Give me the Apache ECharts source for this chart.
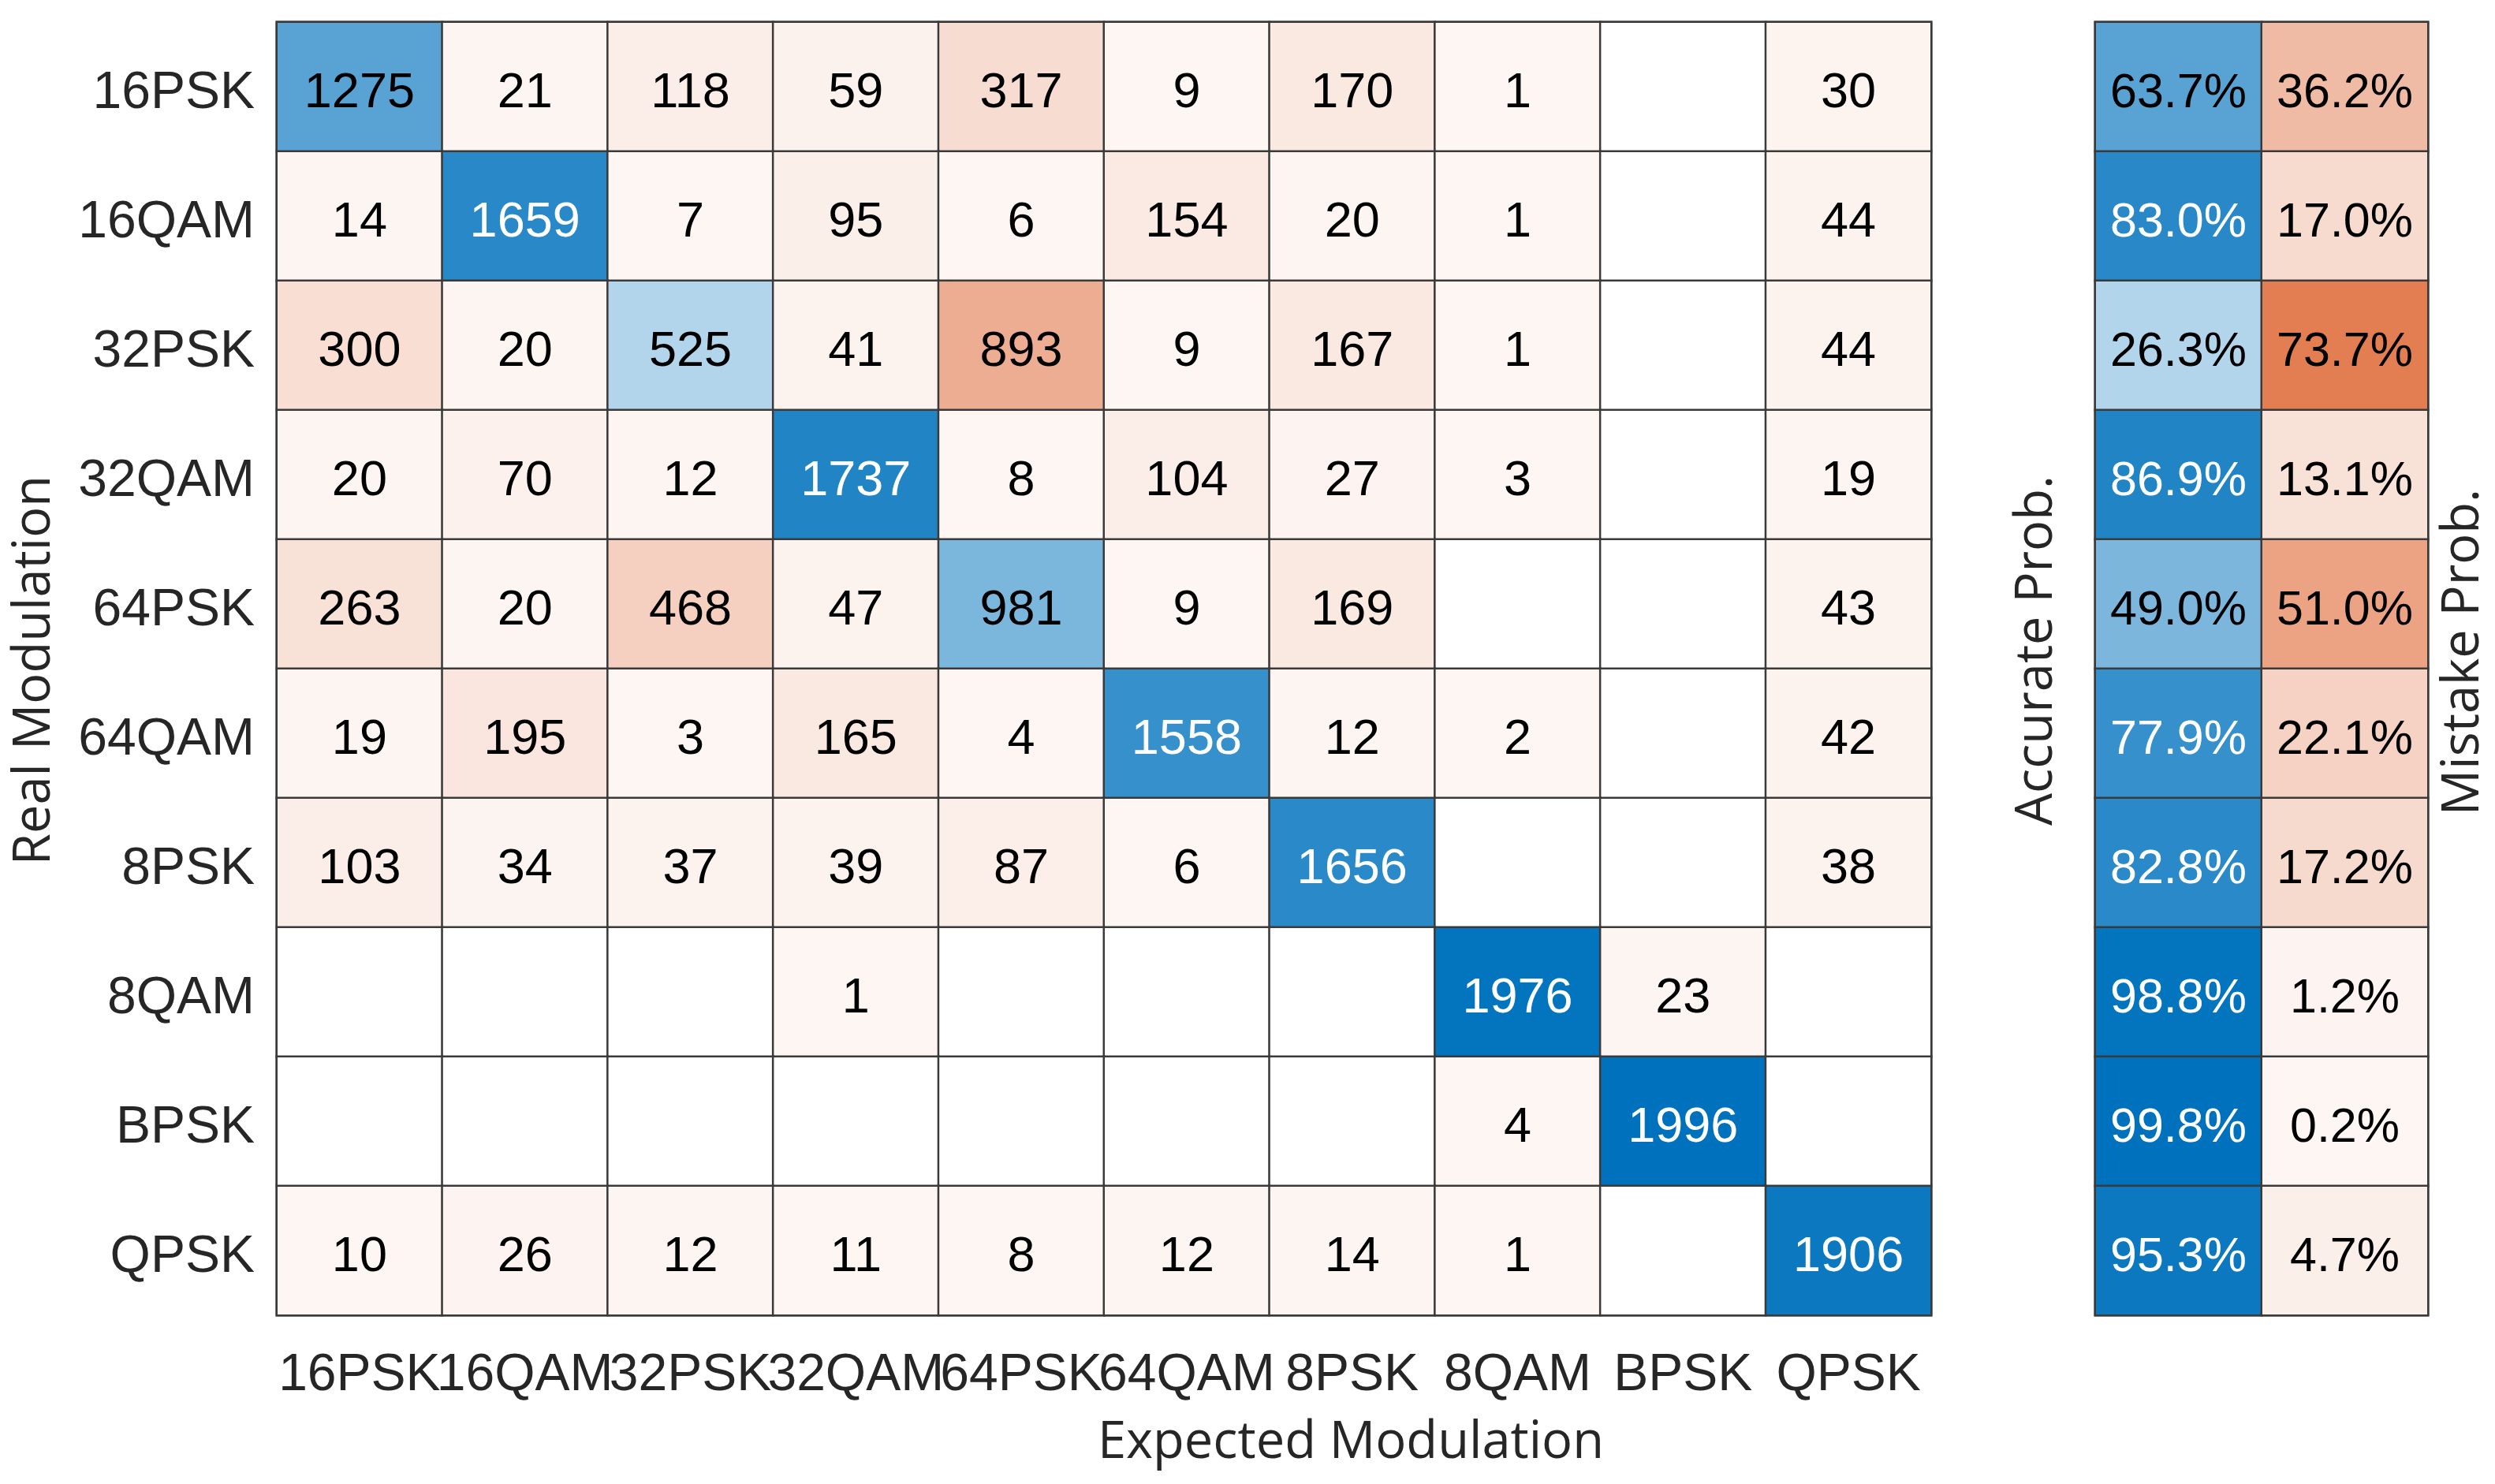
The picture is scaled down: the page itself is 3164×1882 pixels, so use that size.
<!DOCTYPE html>
<html>
<head>
<meta charset="utf-8">
<script src="https://cdn.jsdelivr.net/npm/echarts@6.0.0/dist/echarts.min.js"></script>
<style>
  html, body { margin: 0; padding: 0; background: #fff; }
  .chart { width: 3164px; height: 1882px; }
</style>
</head>
<body>
<div id="main" class="chart"></div>
<script>
// modulation classes, same order on both axes
const categories = ["16PSK", "16QAM", "32PSK", "32QAM", "64PSK", "64QAM", "8PSK", "8QAM", "BPSK", "QPSK"];

// counts, one row per real modulation
const row16PSK = [1275, 21, 118, 59, 317, 9, 170, 1, 0, 30];
const row16QAM = [14, 1659, 7, 95, 6, 154, 20, 1, 0, 44];
const row32PSK = [300, 20, 525, 41, 893, 9, 167, 1, 0, 44];
const row32QAM = [20, 70, 12, 1737, 8, 104, 27, 3, 0, 19];
const row64PSK = [263, 20, 468, 47, 981, 9, 169, 0, 0, 43];
const row64QAM = [19, 195, 3, 165, 4, 1558, 12, 2, 0, 42];
const row8PSK = [103, 34, 37, 39, 87, 6, 1656, 0, 0, 38];
const row8QAM = [0, 0, 0, 1, 0, 0, 0, 1976, 23, 0];
const rowBPSK = [0, 0, 0, 0, 0, 0, 0, 4, 1996, 0];
const rowQPSK = [10, 26, 12, 11, 8, 12, 14, 1, 0, 1906];
const matrix = [row16PSK, row16QAM, row32PSK, row32QAM, row64PSK, row64QAM, row8PSK, row8QAM, rowBPSK, rowQPSK];

// side panel, percent per row
const accurateProb = [63.7, 83.0, 26.3, 86.9, 49.0, 77.9, 82.8, 98.8, 99.8, 95.3];
const mistakeProb = [36.2, 17.0, 73.7, 13.1, 51.0, 22.1, 17.2, 1.2, 0.2, 4.7];

const BLUE = [0, 114, 189];
const ORANGE = [217, 83, 25];
const numFont = "Liberation Sans, Arial, sans-serif";
const titleFont = "Open Sans, sans-serif";

// white -> base colour, text turns white on dark cells
function shade(base, frac) {
  if (frac <= 0) return { fill: "#ffffff", text: "#000" };
  const t = 0.05 + 0.95 * Math.min(frac, 1);
  const c = base.map((v) => Math.round(255 - t * (255 - v)));
  const lum = 0.299 * c[0] + 0.587 * c[1] + 0.114 * c[2];
  return { fill: `rgb(${c[0]},${c[1]},${c[2]})`, text: lum < 135 ? "#fff" : "#000" };
}

const maxCount = 2000;
const cellData = [];
matrix.forEach((row, r) => {
  row.forEach((v, c) => {
    const s = shade(r === c ? BLUE : ORANGE, v / maxCount);
    cellData.push({
      value: [c, r, v],
      itemStyle: { color: s.fill },
      label: { color: s.text },
    });
  });
});

const probData = [];
accurateProb.forEach((p, r) => {
  const s = shade(BLUE, p / 100);
  probData.push({ value: [0, r, p], itemStyle: { color: s.fill }, label: { color: s.text } });
});
mistakeProb.forEach((p, r) => {
  const s = shade(ORANGE, p / 100);
  probData.push({ value: [1, r, p], itemStyle: { color: s.fill }, label: { color: s.text } });
});

const hiddenAxis = {
  axisLine: { show: false },
  axisTick: { show: false },
  splitLine: { show: false },
};

const option = {
  backgroundColor: "#fff",
  animation: false,
  grid: [
    { left: 351, top: 28, width: 2098, height: 1640, show: true, borderColor: "#555", borderWidth: 3, backgroundColor: "transparent" },
    { left: 2657, top: 28, width: 422, height: 1640, show: true, borderColor: "#555", borderWidth: 3, backgroundColor: "transparent" },
  ],
  xAxis: [
    {
      type: "category",
      gridIndex: 0,
      data: categories,
      ...hiddenAxis,
      axisLabel: { fontSize: 66, fontFamily: numFont, color: "#262626", margin: 44, interval: 0 },
    },
    {
      type: "category",
      gridIndex: 1,
      data: ["Accurate", "Mistake"],
      ...hiddenAxis,
      axisLabel: { show: false },
    },
  ],
  yAxis: [
    {
      type: "category",
      gridIndex: 0,
      inverse: true,
      data: categories,
      ...hiddenAxis,
      axisLabel: {
        margin: 28,
        formatter: (v) => `{lab|${v}}`,
        rich: {
          lab: { fontSize: 66, fontFamily: numFont, color: "#262626", padding: [18, 0, 0, 0] },
        },
      },
    },
    {
      type: "category",
      gridIndex: 1,
      inverse: true,
      data: categories,
      ...hiddenAxis,
      axisLabel: { show: false },
    },
  ],
  series: [
    {
      name: "counts",
      type: "heatmap",
      xAxisIndex: 0,
      yAxisIndex: 0,
      data: cellData,
      itemStyle: { borderColor: "#3a3a3a", borderWidth: 2.5 },
      label: {
        show: true,
        fontSize: 63,
        fontFamily: numFont,
        offset: [0, 9],
        formatter: (p) => (p.value[2] === 0 ? "" : String(p.value[2])),
      },
      emphasis: { disabled: true },
    },
    {
      name: "prob",
      type: "heatmap",
      xAxisIndex: 1,
      yAxisIndex: 1,
      data: probData,
      itemStyle: { borderColor: "#3a3a3a", borderWidth: 2.5 },
      label: {
        show: true,
        fontSize: 61,
        fontFamily: numFont,
        offset: [0, 9],
        formatter: (p) => p.value[2].toFixed(1) + "%",
      },
      emphasis: { disabled: true },
    },
  ],
  graphic: [
    {
      type: "text", x: 1713, y: 1830,
      style: { text: "Expected Modulation", fontSize: 65, fontFamily: titleFont, fill: "#262626", align: "center", verticalAlign: "middle", textAlign: "center", textVerticalAlign: "middle" },
    },
    {
      type: "text", x: 44, y: 850, rotation: Math.PI / 2,
      style: { text: "Real Modulation", fontSize: 65, fontFamily: titleFont, fill: "#262626", align: "center", verticalAlign: "middle", textAlign: "center", textVerticalAlign: "middle" },
    },
    {
      type: "text", x: 2583, y: 825, rotation: Math.PI / 2,
      style: { text: "Accurate Prob.", fontSize: 65, fontFamily: titleFont, fill: "#262626", align: "center", verticalAlign: "middle", textAlign: "center", textVerticalAlign: "middle" },
    },
    {
      type: "text", x: 3124, y: 827, rotation: Math.PI / 2,
      style: { text: "Mistake Prob.", fontSize: 65, fontFamily: titleFont, fill: "#262626", align: "center", verticalAlign: "middle", textAlign: "center", textVerticalAlign: "middle" },
    },
  ],
};

const chart = echarts.init(document.getElementById("main"));
chart.setOption(option);
</script>
</body>
</html>
